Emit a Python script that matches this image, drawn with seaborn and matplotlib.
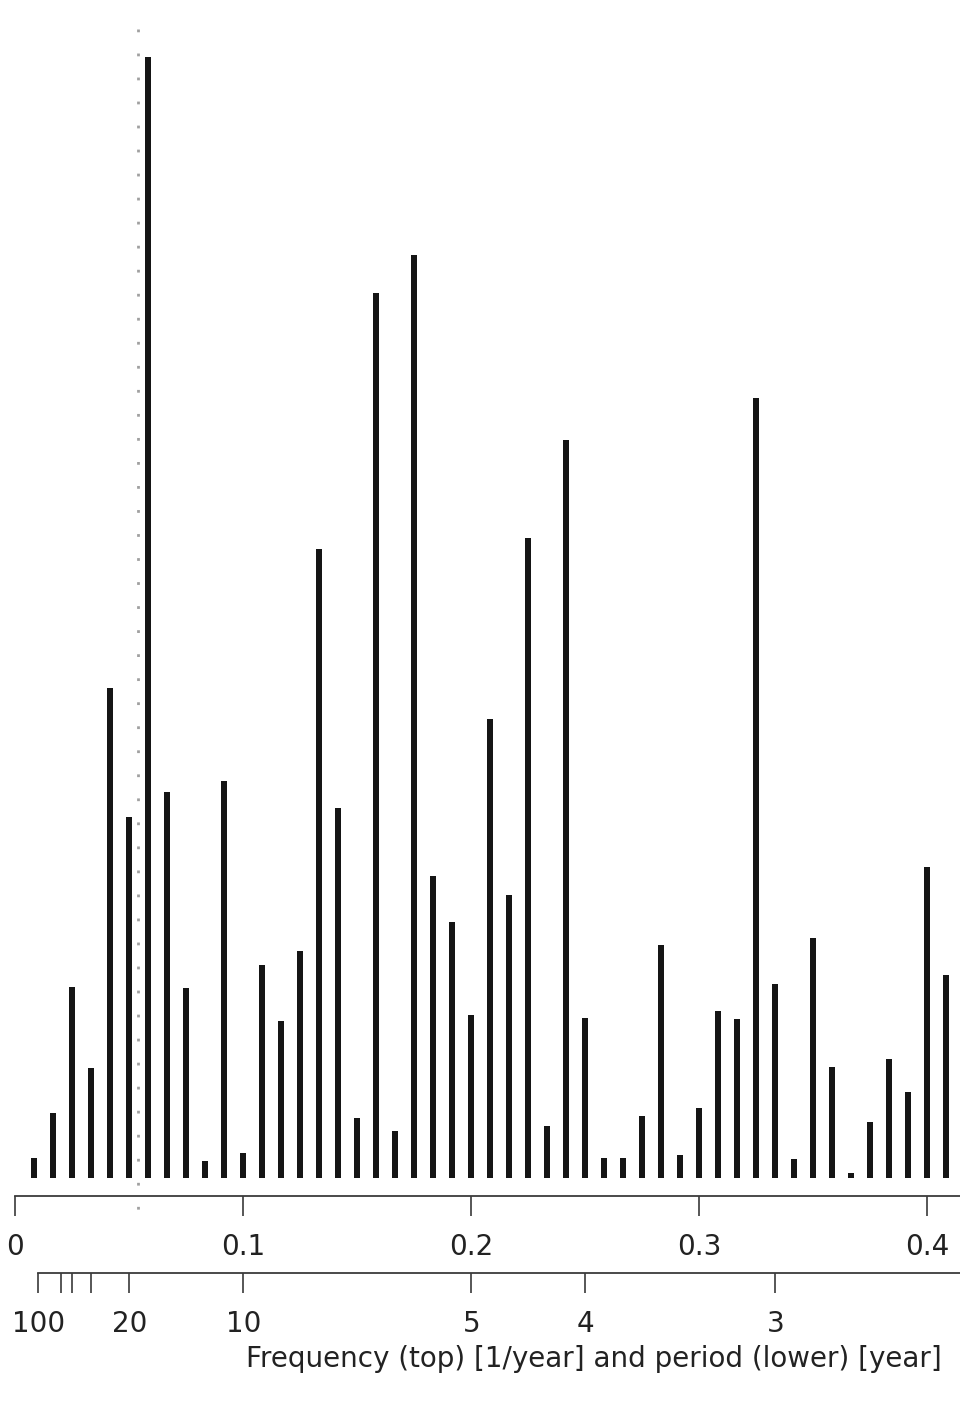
import numpy as np
import pandas as pd
import matplotlib
matplotlib.use("Agg")
import matplotlib.pyplot as plt
import seaborn as sns

# ---- data ----
n_years = 120
harmonic = list(range(1, 50))
power = [0.20, 0.65, 1.91, 1.10, 4.90, 3.61, 11.21, 3.86, 1.90, 0.17,
         3.97, 0.25, 2.13, 1.57, 2.27, 6.29, 3.70, 0.60, 8.85, 0.47,
         9.23, 3.02, 2.56, 1.63, 4.59, 2.83, 6.40, 0.52, 7.38, 1.60,
         0.20, 0.20, 0.62, 2.33, 0.23, 0.70, 1.67, 1.59, 7.80, 1.94,
         0.19, 2.40, 1.11, 0.05, 0.56, 1.19, 0.86, 3.11, 2.03]
freq = [k / n_years for k in harmonic]
nodal_period = 18.6
freq_ticks = [0.0, 0.1, 0.2, 0.3, 0.4]
freq_labels = ["0", "0.1", "0.2", "0.3", "0.4"]
period_ticks = [100, 50, 40, 30, 20, 10, 5, 4, 3]
period_labels = ["100", "", "", "", "20", "10", "5", "4", "3"]
xlabel = "Frequency (top) [1/year] and period (lower) [year]"

df = pd.DataFrame({"freq": freq, "power": power})

sns.set_style("white")
plt.rcParams["font.family"] = ["DejaVu Sans"]

W, H = 960, 1402
fig = plt.figure(figsize=(W / 100, H / 100), dpi=100)

x0 = 15.3        # pixel of frequency 0
ppu = 2280.0     # pixels per unit frequency
xmax = (W - x0) / ppu
base = 1178.0    # pixel of zero power
axis_y = 1196.0  # pixel of top axis line
ypp = 100.0      # pixels per unit power

ax = fig.add_axes([x0 / W, (H - axis_y) / H, (W - x0) / W, axis_y / H])
sns.barplot(data=df, x="freq", y="power", native_scale=True, width=0.33,
            color="#151515", saturation=1, linewidth=0, errorbar=None, ax=ax)
ax.set_xlim(0, xmax)
ax.set_ylim(-(axis_y - base) / ypp, base / ypp)

# nodal cycle dotted line
fn = 1.0 / nodal_period
ax.plot([fn, fn], [(base - 29) / ypp, (base - 1220) / ypp], color="#a0a0a0",
        lw=2.0, linestyle=(0, (1.0, 7.65)), clip_on=False, zorder=0)

for s in ["top", "left", "right"]:
    ax.spines[s].set_visible(False)
ax.spines["bottom"].set_color("#3a3a3a")
ax.spines["bottom"].set_linewidth(1.3)
ax.spines["bottom"].set_bounds(0, xmax)
ax.set_yticks([])
ax.set_xticks(freq_ticks)
ax.set_xticklabels(freq_labels)
ax.tick_params(axis="x", direction="out", length=14.4, width=1.2,
               color="#3a3a3a", pad=12.5, labelsize=20, labelcolor="#222222",
               bottom=True)
ax.set_xlabel("")
ax.set_ylabel("")

# period axis
ax2_y = 1273.0
ax2 = fig.add_axes([x0 / W, (H - ax2_y) / H, (W - x0) / W, 10 / H])
ax2.set_xlim(0, xmax)
ax2.patch.set_alpha(0)
for s in ["top", "left", "right"]:
    ax2.spines[s].set_visible(False)
ax2.spines["bottom"].set_color("#3a3a3a")
ax2.spines["bottom"].set_linewidth(1.3)
ax2.spines["bottom"].set_bounds(1.0 / period_ticks[0], xmax)
ax2.set_yticks([])
ax2.set_xticks([1.0 / p for p in period_ticks])
ax2.set_xticklabels(period_labels)
ax2.tick_params(axis="x", direction="out", length=14.4, width=1.2,
                color="#3a3a3a", pad=12.5, labelsize=20, labelcolor="#222222",
                bottom=True)
ax2.set_xlabel(xlabel, fontsize=20, color="#222222", va="top", ha="center")
ax2.xaxis.set_label_coords((594 - x0) / (W - x0), (ax2_y - 1345) / 10.0)

fig.savefig("out.png", dpi=100)
